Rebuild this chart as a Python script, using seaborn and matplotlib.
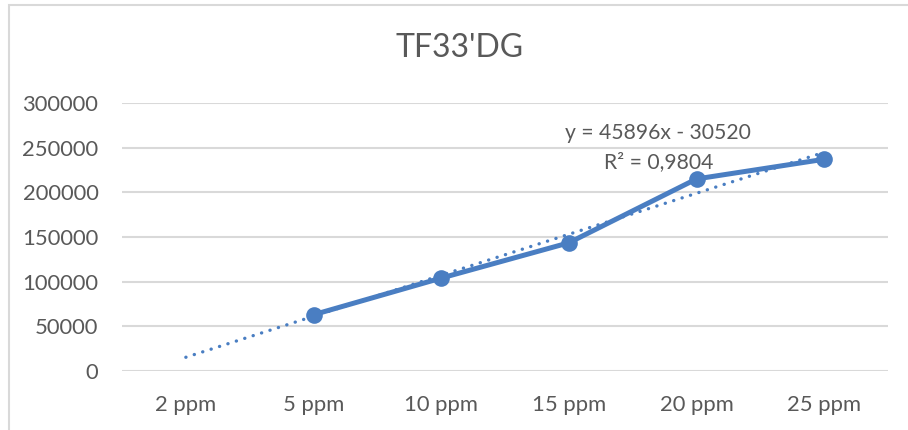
import matplotlib
matplotlib.use("Agg")
import matplotlib.pyplot as plt
from matplotlib.patches import Rectangle
import numpy as np
import pandas as pd
import seaborn as sns

# Calibration data
categories = ["2 ppm", "5 ppm", "10 ppm", "15 ppm", "20 ppm", "25 ppm"]
peak_area = [np.nan, 63000, 104000, 143500, 215000, 237000]
y_ticks = [0, 50000, 100000, 150000, 200000, 250000, 300000]

# Linear trend as reported by the fit
slope = 45896
intercept = -30520
r_squared = "0,9804"

sns.set_theme(style="white")
plt.rcParams["font.family"] = ["Lato", "DejaVu Sans"]

blue = "#4a7ec2"
grey_text = "#595959"
grid_col = "#d9d9d9"

pos = np.arange(len(categories))
df = pd.DataFrame({"pos": pos, "area": peak_area}).dropna()
trend = pd.DataFrame({"pos": pos, "fit": slope * (pos + 1) + intercept})

fig = plt.figure(figsize=(9.08, 4.30), dpi=100)
ax = fig.add_axes([122 / 908, (430 - 371) / 430, (888 - 122) / 908, (371 - 103) / 430])

for yv in y_ticks:
    ax.axhline(yv, color=grid_col, lw=1.5, zorder=0)

sns.lineplot(data=df, x="pos", y="area", ax=ax, color=blue, lw=3.6,
             marker="o", markersize=12, markeredgewidth=0, zorder=3)
sns.lineplot(data=trend, x="pos", y="fit", ax=ax, color=blue, lw=2.4,
             linestyle=(0, (0.05, 2.6)), dash_capstyle="round", zorder=4)

ax.set_xlim(-0.5, len(categories) - 0.5)
ax.set_ylim(0, 300000)
ax.set_xticks(pos)
ax.set_xticklabels(categories)
ax.set_yticks(y_ticks)
ax.set_yticklabels([str(v) for v in y_ticks])
ax.set_xlabel("")
ax.set_ylabel("")
ax.tick_params(axis="both", length=0, labelsize=15.8, colors=grey_text)
ax.tick_params(axis="y", pad=17)
ax.tick_params(axis="x", pad=17)
for s in ax.spines.values():
    s.set_visible(False)

fig.text(460 / 908, 1 - 48 / 430, "TF33'DG", ha="center", va="center",
         fontsize=23, fontweight="normal", color=grey_text)

ax.text(3.70, 266400, f"y = {slope}x - {abs(intercept)}", ha="center", va="center",
        fontsize=15.2, color=grey_text)
ax.text(3.70, 234000, f"R² = {r_squared}", ha="center", va="center",
        fontsize=15.2, color=grey_text)

fig.patches.append(Rectangle((8.5 / 908, -0.1), 1.2, (430 - 4.5) / 430 + 0.1,
                             transform=fig.transFigure, fill=False,
                             edgecolor="#d9d9d9", lw=1.5))

fig.savefig("out.png", dpi=100, facecolor="white")
